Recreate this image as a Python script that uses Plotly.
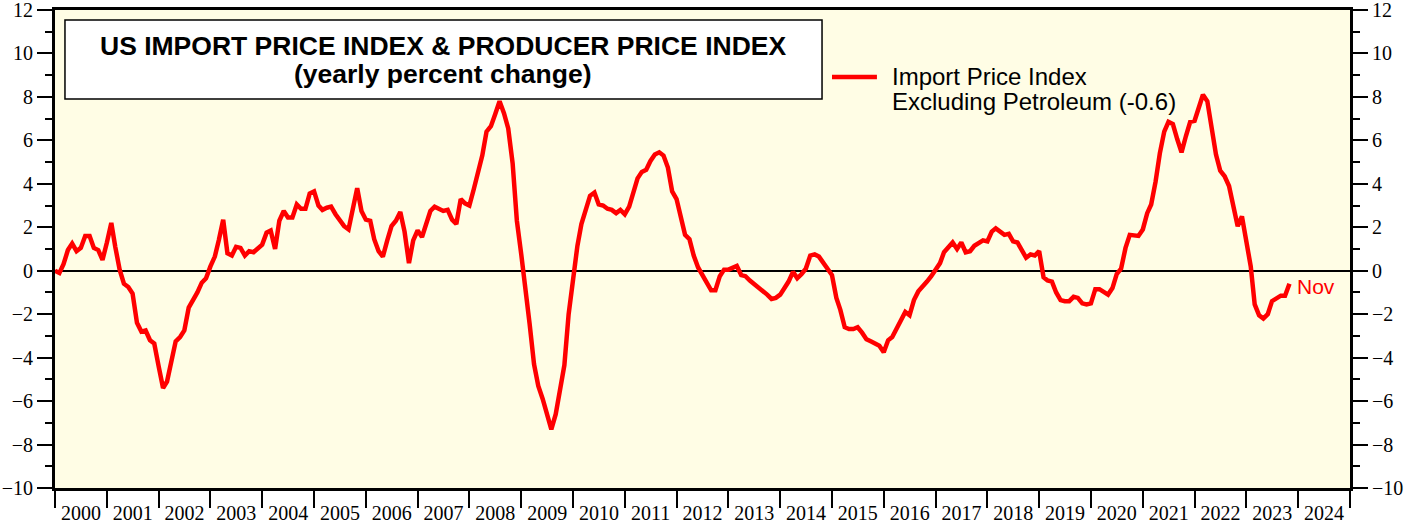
import plotly.graph_objects as go
import pandas as pd

# yearly percent change, import price index excluding petroleum (monthly, Jan..Dec)
y2000 = [0.0, -0.1, 0.3, 0.95, 1.25, 0.9, 1.05, 1.6, 1.6, 1.05, 0.95, 0.5]
y2001 = [1.3, 2.2, 1.1, 0.05, -0.6, -0.75, -1.05, -2.4, -2.8, -2.75, -3.2, -3.35]
y2002 = [-4.4, -5.4, -5.1, -4.25, -3.25, -3.05, -2.75, -1.7, -1.35, -1.0, -0.55, -0.35]
y2003 = [0.2, 0.65, 1.4, 2.35, 0.8, 0.7, 1.1, 1.05, 0.7, 0.9, 0.85, 1.05]
y2004 = [1.2, 1.75, 1.85, 1.0, 2.3, 2.75, 2.45, 2.45, 3.05, 2.85, 2.85, 3.55]
y2005 = [3.65, 3.0, 2.8, 2.9, 2.95, 2.6, 2.3, 2.05, 1.9, 2.9, 3.8, 2.75]
y2006 = [2.35, 2.3, 1.45, 0.9, 0.65, 1.4, 2.05, 2.3, 2.7, 1.8, 0.35, 1.4]
y2007 = [1.85, 1.55, 2.2, 2.75, 2.95, 2.85, 2.75, 2.8, 2.35, 2.15, 3.3, 3.1]
y2008 = [3.0, 3.75, 4.5, 5.3, 6.4, 6.65, 7.2, 7.8, 7.25, 6.55, 4.95, 2.3]
y2009 = [0.75, -0.8, -2.45, -4.3, -5.3, -5.9, -6.6, -7.3, -6.6, -5.6, -4.35, -2.0]
y2010 = [-0.3, 1.15, 2.15, 2.75, 3.45, 3.6, 3.05, 3.0, 2.85, 2.8, 2.65, 2.8]
y2011 = [2.6, 2.95, 3.65, 4.25, 4.55, 4.65, 5.05, 5.35, 5.45, 5.3, 4.75, 3.65]
y2012 = [3.3, 2.45, 1.65, 1.45, 0.7, 0.15, -0.15, -0.55, -0.9, -0.9, -0.25, 0.05]
y2013 = [0.05, 0.15, 0.22, -0.2, -0.25, -0.45, -0.6, -0.8, -0.95, -1.1, -1.3, -1.25]
y2014 = [-1.1, -0.8, -0.5, -0.05, -0.35, -0.15, 0.1, 0.7, 0.75, 0.65, 0.35, 0.05]
y2015 = [-0.2, -1.25, -1.8, -2.6, -2.68, -2.68, -2.6, -2.85, -3.15, -3.25, -3.35, -3.45]
y2016 = [-3.75, -3.2, -3.05, -2.65, -2.2, -1.9, -2.05, -1.35, -0.95, -0.75, -0.5, -0.25]
y2017 = [0.05, 0.35, 0.85, 1.05, 1.3, 1.0, 1.3, 0.85, 0.9, 1.15, 1.25, 1.4]
y2018 = [1.35, 1.8, 1.95, 1.8, 1.65, 1.7, 1.35, 1.3, 0.9, 0.6, 0.75, 0.7]
y2019 = [0.9, -0.3, -0.45, -0.5, -1.0, -1.35, -1.4, -1.4, -1.2, -1.25, -1.5, -1.55]
y2020 = [-1.5, -0.85, -0.85, -1.0, -1.1, -0.8, -0.15, 0.1, 1.05, 1.65, 1.65, 1.6]
y2021 = [1.9, 2.65, 3.05, 4.1, 5.4, 6.4, 6.85, 6.75, 6.05, 5.45, 6.2, 6.85]
y2022 = [6.9, 7.5, 8.1, 7.8, 6.7, 5.35, 4.6, 4.35, 3.9, 3.05, 2.05, 2.5]
y2023 = [1.45, 0.2, -1.55, -2.05, -2.2, -2.0, -1.4, -1.3, -1.15, -1.15, -0.6]  # through Nov

legend_lines = ["Import Price Index", "Excluding Petroleum (-0.6)"]
title_line1 = "US IMPORT PRICE INDEX & PRODUCER PRICE INDEX"
title_line2 = "(yearly percent change)"
last_label = "Nov"

values = (y2000 + y2001 + y2002 + y2003 + y2004 + y2005 + y2006 + y2007 + y2008
          + y2009 + y2010 + y2011 + y2012 + y2013 + y2014 + y2015 + y2016 + y2017
          + y2018 + y2019 + y2020 + y2021 + y2022 + y2023)
dates = pd.date_range("2000-01-01", periods=len(values), freq="MS")

RED = "#FF0000"
SERIF = "Liberation Serif"
SANS = "Liberation Sans"

fig = go.Figure()
# invisible copy so the right-hand axis gets drawn
fig.add_trace(go.Scatter(x=dates, y=values, yaxis="y2", mode="lines",
                         line=dict(width=0), hoverinfo="skip", showlegend=False))
fig.add_trace(go.Scatter(x=dates, y=values, mode="lines",
                         line=dict(color=RED, width=4.5), showlegend=False))

yticks = dict(range=[-10, 12], tickmode="linear", tick0=-10, dtick=2,
              ticks="outside", ticklen=15, tickwidth=2, tickcolor="black",
              minor=dict(dtick=1, ticks="outside", ticklen=7, tickwidth=2, tickcolor="black"),
              showgrid=False, tickfont=dict(family=SERIF, size=20, color="black"),
              showline=True, linecolor="black", linewidth=3, fixedrange=True,
              automargin=False, ticklabeloverflow="allow")

fig.update_layout(
    width=1418, height=529,
    margin=dict(l=55, r=68, t=10, b=41, pad=0),
    paper_bgcolor="white",
    plot_bgcolor="#FFFDE5",
    showlegend=False,
    xaxis=dict(type="date", range=["2000-01-01", "2025-01-01"],
               tick0="2000-01-01", dtick="M12", tickformat="%Y",
               ticklabelmode="period", ticks="outside", ticklen=17, tickwidth=2,
               tickcolor="black", showgrid=False, showline=True, linecolor="black",
               linewidth=3, mirror=True, ticklabelstandoff=-12, automargin=False,
               tickfont=dict(family=SERIF, size=20, color="black")),
    yaxis=dict(**yticks, mirror=True, zeroline=True, zerolinecolor="black",
               zerolinewidth=1.5),
    yaxis2=dict(**yticks, overlaying="y", side="right", zeroline=False),
)

# title box
fig.add_shape(type="rect", xref="paper", yref="paper",
              x0=0.0077, x1=0.5923, y0=0.814, y1=0.979,
              line=dict(color="black", width=1.5), fillcolor="white", layer="above")
fig.add_annotation(xref="paper", yref="paper", x=0.2996, y=0.925, text=title_line1,
                   showarrow=False, xanchor="center", yanchor="middle",
                   font=dict(family=SANS, size=26.5, color="black", weight="bold"))
fig.add_annotation(xref="paper", yref="paper", x=0.2996, y=0.866, text=title_line2,
                   showarrow=False, xanchor="center", yanchor="middle",
                   font=dict(family=SANS, size=26.5, color="black", weight="bold"))

# legend key
fig.add_shape(type="line", xref="paper", yref="paper",
              x0=0.600, x1=0.6347, y0=0.860, y1=0.860,
              line=dict(color=RED, width=4.5))
for i, line_txt in enumerate(legend_lines):
    fig.add_annotation(xref="paper", yref="paper", x=0.6448, y=0.860 - i * 0.052,
                       text=line_txt, showarrow=False, xanchor="left", yanchor="middle",
                       height=27, valign="middle",
                       font=dict(family=SANS, size=24, color="black"))

# last observation label
fig.add_annotation(x=dates[-1], y=values[-1], text=last_label, showarrow=False,
                   xanchor="left", yanchor="middle", xshift=6, yshift=-3,
                   font=dict(family=SANS, size=21, color=RED))

fig.write_html("out.html",
               config={"displayModeBar": False},
               post_script="document.body.style.margin='0';"
                           "document.body.style.overflow='hidden';")
